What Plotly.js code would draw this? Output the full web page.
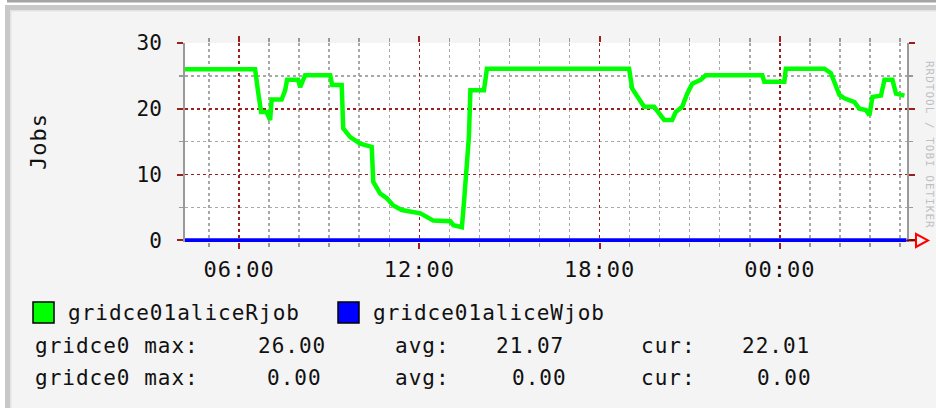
<!DOCTYPE html>
<html><head><meta charset="utf-8">
<script src="https://cdn.plot.ly/plotly-3.0.1.min.js"></script>
<style>
html,body{margin:0;padding:0;background:#f4f4f4;}
#chart{width:936px;height:408px;}
.xtick text{letter-spacing:1px;}
.annotation-text{letter-spacing:1px;}
</style></head><body><div id="chart"></div>
<script>
// ---- data ----
const rTimes = [
 '2009-01-01 04:12','2009-01-01 06:32','2009-01-01 06:38','2009-01-01 06:44','2009-01-01 06:55',
 '2009-01-01 07:02','2009-01-01 07:05','2009-01-01 07:25','2009-01-01 07:32','2009-01-01 07:36',
 '2009-01-01 07:58','2009-01-01 08:02','2009-01-01 08:12','2009-01-01 09:02','2009-01-01 09:06',
 '2009-01-01 09:25','2009-01-01 09:28','2009-01-01 09:42','2009-01-01 10:02','2009-01-01 10:25',
 '2009-01-01 10:28','2009-01-01 10:42','2009-01-01 10:55','2009-01-01 11:08','2009-01-01 11:25',
 '2009-01-01 12:02','2009-01-01 12:28','2009-01-01 13:02','2009-01-01 13:08','2009-01-01 13:25',
 '2009-01-01 13:29','2009-01-01 13:32','2009-01-01 13:35','2009-01-01 13:39','2009-01-01 13:42',
 '2009-01-01 14:09','2009-01-01 14:12','2009-01-01 14:15','2009-01-01 18:59','2009-01-01 19:05',
 '2009-01-01 19:29','2009-01-01 19:49','2009-01-01 20:02','2009-01-01 20:09','2009-01-01 20:25',
 '2009-01-01 20:32','2009-01-01 20:45','2009-01-01 20:55','2009-01-01 21:05','2009-01-01 21:22',
 '2009-01-01 21:32','2009-01-01 23:25','2009-01-01 23:29','2009-01-02 00:09','2009-01-02 00:12',
 '2009-01-02 01:29','2009-01-02 01:42','2009-01-02 01:59','2009-01-02 02:09','2009-01-02 02:29',
 '2009-01-02 02:39','2009-01-02 02:52','2009-01-02 02:59','2009-01-02 03:05','2009-01-02 03:22',
 '2009-01-02 03:29','2009-01-02 03:45','2009-01-02 03:52','2009-01-02 04:09'
];
const rJobs = [
 26,26,22.6,19.5,19.5,
 18.3,21.4,21.4,22.8,24.4,
 24.4,23.3,25.1,25.1,23.6,
 23.6,17,15.7,14.7,14.2,
 8.9,7.1,6.4,5.3,4.6,
 4.1,3.0,2.9,2.3,2.0,
 5.6,8.6,10.6,15.7,22.8,
 22.8,24.4,26.1,26.1,23.1,
 20.3,20.3,19,18.3,18.3,
 19.5,20.3,22.3,23.8,24.4,
 25.1,25.1,24.1,24.1,26.1,
 26.1,25.4,22.1,21.6,21,
 20,19.8,19,21.8,22,
 24.4,24.4,22.3,22
];
const wTimes = ['2009-01-01 04:12','2009-01-02 04:13'];
const wJobs = [0,0];
const seriesNames = ['gridce01aliceRjob','gridce01aliceWjob'];
const seriesColors = ['#00ff00','#0000ff'];
const statLabels = ['gridce0 max:','gridce0 max:'];
const maxVals = ['26.00','0.00'];
const avgVals = ['21.07','0.00'];
const curVals = ['22.01','0.00'];
const yTitle = 'Jobs';
const watermark = 'RRDTOOL / TOBI OETIKER';

// ---- geometry helpers (pixel -> paper) ----
const W=936,H=408,L=185,R=907,T=43,B=242;
const px = x => (x-L)/(R-L);
const py = y => (B-y)/(B-T);
const MONO = 'DejaVu Sans Mono';
const DR = '#9a2020';

const traces = [
 {x:rTimes,y:rJobs,type:'scatter',mode:'lines',line:{color:seriesColors[0],width:4.5},name:seriesNames[0]},
 {x:wTimes,y:wJobs,type:'scatter',mode:'lines',line:{color:seriesColors[1],width:4},name:seriesNames[1]}
];

function rect(x0,y0,x1,y1,fill,lc,lw){
 return {type:'rect',xref:'paper',yref:'paper',x0:px(x0),x1:px(x1),y0:py(y0),y1:py(y1),
   fillcolor:fill,line:{color:lc||fill,width:lw||0},layer:'above'};
}
const shapes = [
 rect(0,0,936,5,'#ffffff'),
 rect(0,0,5,408,'#ffffff'),
 rect(7,0,936,2.5,'#a4a4a4'),
 rect(5,5,936,10,'#c8c8c8'),
 rect(5,5,10,408,'#c8c8c8'),
 rect(10,10,936,11.5,'#e2e2e2'),
 rect(10,10,11.5,408,'#e2e2e2'),
 rect(33,302,54,323,seriesColors[0],'#000',1.5),
 rect(338,302,359,323,seriesColors[1],'#000',1.5),
 {type:'line',xref:'paper',yref:'paper',x0:px(907),x1:px(916),y0:py(240.4),y1:py(240.4),line:{color:'#8b0000',width:2},layer:'above'},
 {type:'path',xref:'paper',yref:'paper',
  path:`M${px(916)},${py(234)} L${px(928)},${py(240.4)} L${px(916)},${py(247)} Z`,
  line:{color:'#ff0000',width:2},fillcolor:'rgba(0,0,0,0)',layer:'above'}
];

function ann(text,x,y,opts){
 return Object.assign({text:text,xref:'paper',yref:'paper',x:px(x),y:py(y),showarrow:false,
   xanchor:'left',yanchor:'middle',font:{family:MONO,size:21,color:'#111'}},opts||{});
}
const annotations = [
 ann(yTitle,38,142,{textangle:-90,xanchor:'center',font:{family:MONO,size:22,color:'#111'}}),
 ann(watermark,930,145,{textangle:90,xanchor:'center',font:{family:MONO,size:11,color:'#c0c0c0'}}),
 ann(seriesNames[0],66,313),
 ann(seriesNames[1],371,313)
];
const rowY=[346,378];
const valX=[[256,494,740],[265,510,755]];
for(let i=0;i<2;i++){
 annotations.push(ann(statLabels[i],33,rowY[i]));
 annotations.push(ann(maxVals[i],valX[i][0],rowY[i]));
 annotations.push(ann('avg:',393,rowY[i]));
 annotations.push(ann(avgVals[i],valX[i][1],rowY[i]));
 annotations.push(ann('cur:',639,rowY[i]));
 annotations.push(ann(curVals[i],valX[i][2],rowY[i]));
}

const layout = {
 width:W,height:H,margin:{l:L,r:W-R,t:T,b:H-B,pad:0},
 paper_bgcolor:'#f4f4f4',plot_bgcolor:'#ffffff',showlegend:false,
 xaxis:{type:'date',range:['2009-01-01 04:12','2009-01-02 04:14'],
   tick0:'2009-01-01 00:00',dtick:21600000,tickformat:'%H:%M',
   showgrid:true,gridcolor:DR,griddash:'dot',gridwidth:1.5,
   ticks:'outside',ticklen:6,tickwidth:2,tickcolor:DR,ticklabelstandoff:2,
   showline:true,linecolor:'rgba(0,0,0,0)',mirror:'ticks',zeroline:false,
   tickfont:{family:MONO,size:22,color:'#111'},
   minor:{dtick:3600000,showgrid:true,gridcolor:'#a8a8a8',griddash:'dot',gridwidth:1.5,ticks:'outside',ticklen:4,tickcolor:'#999',tickwidth:1.5}},
 yaxis:{range:[-0.25,30],tick0:0,dtick:10,
   showgrid:true,gridcolor:DR,griddash:'dot',gridwidth:1.5,
   ticks:'outside',ticklen:6,tickwidth:2,tickcolor:DR,ticklabelstandoff:11,
   showline:true,linecolor:'#999',linewidth:2,mirror:'ticks',zeroline:false,
   tickfont:{family:MONO,size:21,color:'#111'},
   minor:{dtick:5,showgrid:true,gridcolor:'#a8a8a8',griddash:'dot',gridwidth:1.5,ticks:'outside',ticklen:4,tickcolor:'#999',tickwidth:1.5}},
 shapes:shapes,annotations:annotations
};
Plotly.newPlot('chart',traces,layout,{staticPlot:true,displayModeBar:false});
</script></body></html>
